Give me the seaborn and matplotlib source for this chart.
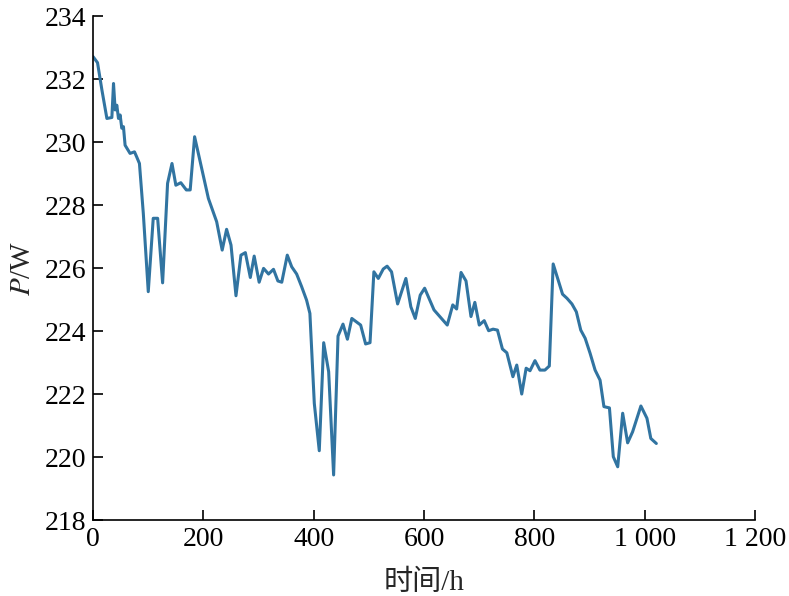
import pandas as pd
import matplotlib
matplotlib.use('Agg')
import matplotlib.pyplot as plt
import seaborn as sns

# 时间 (h) 与 功率 P (W)
time_h = [0, 8, 16, 25, 34, 37, 40, 43, 46, 49, 52, 55, 58, 67, 75, 79, 84, 91, 100,
          109, 117, 126, 135, 143, 150, 159, 169, 176, 184, 209, 224, 234, 242, 250,
          259, 268, 276, 285, 292, 301, 309, 318, 327, 335, 342, 352, 360, 369, 378,
          387, 393, 401, 410, 418, 427, 436, 444, 453, 461, 469, 485, 494, 502, 509,
          517, 526, 533, 541, 552, 567, 576, 584, 593, 601, 618, 642, 652, 659, 667,
          676, 685, 692, 700, 709, 717, 725, 733, 742, 750, 761, 768, 777, 785, 792,
          801, 810, 819, 827, 834, 851, 859, 868, 876, 884, 892, 901, 910, 919, 926,
          936, 943, 951, 960, 969, 978, 993, 1004, 1011, 1021]
power_w = [232.71, 232.52, 231.65, 230.75, 230.78, 231.86, 231.02, 231.17, 230.75,
           230.86, 230.44, 230.49, 229.90, 229.64, 229.69, 229.53, 229.32, 227.74,
           225.25, 227.58, 227.58, 225.53, 228.69, 229.32, 228.63, 228.71, 228.48,
           228.48, 230.17, 228.21, 227.47, 226.57, 227.23, 226.73, 225.12, 226.41,
           226.49, 225.70, 226.38, 225.55, 225.99, 225.81, 225.96, 225.59, 225.55,
           226.41, 226.04, 225.81, 225.41, 224.98, 224.56, 221.70, 220.20, 223.63,
           222.71, 219.43, 223.84, 224.22, 223.74, 224.40, 224.19, 223.59, 223.63,
           225.88, 225.67, 225.97, 226.06, 225.88, 224.86, 225.67, 224.77, 224.40,
           225.14, 225.36, 224.67, 224.19, 224.83, 224.70, 225.86, 225.59, 224.46,
           224.91, 224.19, 224.33, 224.01, 224.06, 224.03, 223.43, 223.31, 222.55,
           222.92, 222.00, 222.82, 222.74, 223.06, 222.76, 222.76, 222.89, 226.13,
           225.17, 225.04, 224.86, 224.61, 224.03, 223.77, 223.29, 222.76, 222.44,
           221.60, 221.56, 220.01, 219.69, 221.39, 220.45, 220.80, 221.62, 221.23,
           220.59, 220.43]

x_ticks = [0, 200, 400, 600, 800, 1000, 1200]
x_tick_labels = ['0', '200', '400', '600', '800', '1 000', '1 200']
y_ticks = [218, 220, 222, 224, 226, 228, 230, 232, 234]

sns.set_style('ticks')
plt.rcParams['font.family'] = ['Liberation Serif', 'Noto Sans CJK SC']
plt.rcParams['mathtext.fontset'] = 'stix'

df = pd.DataFrame({'time': time_h, 'power': power_w})

fig = plt.figure(figsize=(7.89, 5.96), dpi=100)
ax = fig.add_axes([0.118, 0.1275, 0.839, 0.8455])
sns.lineplot(data=df, x='time', y='power', ax=ax, color='#3174a1', linewidth=2.2)

ax.set_xlim(0, 1200)
ax.set_ylim(218, 234)
ax.set_xticks(x_ticks)
ax.set_xticklabels(x_tick_labels)
ax.set_yticks(y_ticks)
ax.tick_params(axis='both', direction='in', length=7, width=1.2, labelsize=20,
               colors='black', pad=5)
for s in ['top', 'right']:
    ax.spines[s].set_visible(False)
for s in ['left', 'bottom']:
    ax.spines[s].set_linewidth(1.2)
    ax.spines[s].set_color('black')

ax.set_xlabel('时间/h', fontsize=21, labelpad=13)
ax.set_ylabel('$P$/W', fontsize=21, labelpad=6)

fig.savefig('out.png', dpi=100)
